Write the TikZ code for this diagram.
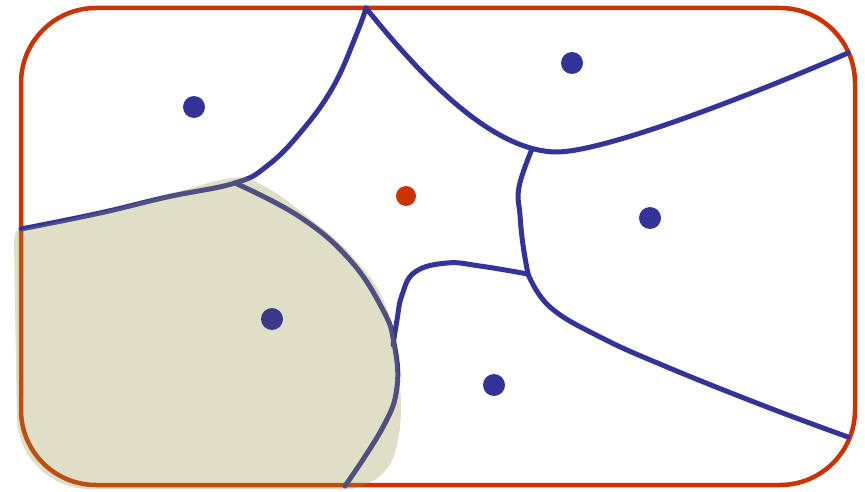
\documentclass[tikz,border=0pt]{standalone}
\definecolor{frame}{RGB}{204,51,0}
\definecolor{cell}{RGB}{51,51,153}
\definecolor{blobc}{RGB}{150,150,72}
\definecolor{sitedark}{RGB}{58,58,138}
\begin{document}
\begin{tikzpicture}[x=1pt,y=-1pt,
  border/.style={draw=frame,line width=4.5pt},
  edge/.style={draw=cell,line width=5pt,line cap=round,line join=round},
  site/.style={circle,fill=cell,inner sep=0pt,minimum size=22pt},
  query/.style={circle,fill=frame,inner sep=0pt,minimum size=20pt},
  blob/.style={fill=blobc,fill opacity=0.3},
  smoothy/.style={smooth,tension=0.7}]
\useasboundingbox (0,0) rectangle (865,492);
% frame
\draw[border,rounded corners=75pt] (21,8) rectangle (855,485);
% junctions
\coordinate (T) at (366,8);
\coordinate (J1) at (235,183);
\coordinate (J2) at (532,149);
\coordinate (J3) at (528,274);
\coordinate (R1) at (848,53);
% cell boundaries
\draw[edge] plot[smoothy] coordinates {(21,229)(100,213)(167,197)(J1)(267,166)(300,133)(333,87)(357,33)(T)};
\draw[edge] (T) .. controls (420,75) and (490,150) .. (555,152) .. controls (600,153) and (740,100) .. (R1);
\draw[edge] plot[smoothy] coordinates {(J2)(519,187)(520,215)(523,245)(J3)};
\draw[edge] plot[smoothy] coordinates {(J3)(480,266)(447,263)(415,272)(402,295)(397,320)(393,345)};
\draw[edge] plot[smoothy] coordinates {(J3)(550,307)(600,337)(667,367)(767,407)(848,437)};
\draw[edge] plot[smoothy] coordinates {(J1)(300,217)(350,260)(383,310)(394,343)(397,387)(383,427)(345,486)};
% shaded region
\path[blob] plot[smoothy] coordinates {(16,231)(100,212)(167,195)(232,178)(262,185)(304,214)(353,257)(387,309)(400,385)(397,445)(380,476)(352,489)}
  [rounded corners=72pt] -- (18,489) [sharp corners] -- (14,240) -- cycle;
% sites
\node[site,fill=sitedark] (s1) at (272,319) {};
\node[site] (s2) at (194,107) {};
\node[site] (s3) at (572,63) {};
\node[site] (s4) at (650,218) {};
\node[site] (s5) at (494,385) {};
\node[query] (q) at (406,196) {};
\end{tikzpicture}
\end{document}
